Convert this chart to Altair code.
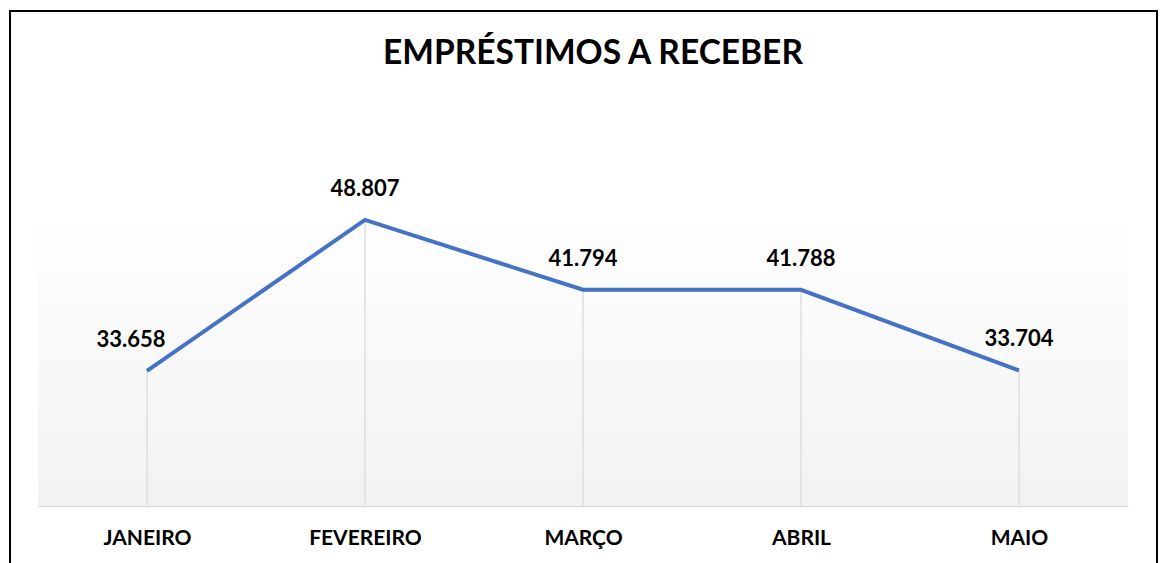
import altair as alt
import pandas as pd

meses = ["JANEIRO", "FEVEREIRO", "MARÇO", "ABRIL", "MAIO"]
valores = [33658, 48807, 41794, 41788, 33704]
label_dx = [-16, 0, 0, 0, 0]
titulo = ["EMPRÉSTIMOS A RECEBER"]

df = pd.DataFrame({"mes": meses, "valor": valores, "dx": label_dx})

W, H = 1090, 301
FONT = "Lato"
YMIN, YMAX = 20100, 50300

xenc = alt.X("mes:N", sort=meses,
             scale=alt.Scale(type="point", padding=0.5),
             axis=alt.Axis(title=None, labelFont=FONT, labelFontSize=21, labelFontWeight="bold",
                           labelColor="#000000", labelPadding=21, ticks=False,
                           domainColor="#d9d9d9", domainWidth=1.5, grid=False, labelAngle=0))
yscale = alt.Scale(domain=[YMIN, YMAX], nice=False, zero=False)

base = alt.Chart(df)

bg = base.mark_rect(
    fill=alt.Gradient(gradient="linear",
                      stops=[alt.GradientStop(color="#ffffff", offset=0),
                             alt.GradientStop(color="#f2f2f2", offset=1)],
                      x1=0, x2=0, y1=0, y2=1),
    clip=False
).encode(x=alt.value(0), x2=alt.value(W), y=alt.value(0), y2=alt.value(H))

border = base.mark_rect(fill=None, stroke="#000000", strokeWidth=2, clip=False).encode(
    x=alt.value(-28), x2=alt.value(1119), y=alt.value(-194), y2=alt.value(H + 80))

title_mark = alt.Chart(pd.DataFrame({"t": titulo})).mark_text(
    font=FONT, fontSize=33.5, fontWeight="bold", color="#000000", baseline="alphabetic", align="center"
).encode(x=alt.value(W / 2 + 10), y=alt.value(-141), text="t:N")

drops = base.mark_rule(color="#d9d9d9", strokeWidth=1.2).encode(
    x=xenc,
    y=alt.Y("valor:Q", scale=yscale, axis=None),
    y2=alt.datum(YMIN))

line = base.mark_line(color="#4472C4", strokeWidth=4).encode(
    x=xenc, y=alt.Y("valor:Q", scale=yscale, axis=None))

lbl_calc = {"lbl": "replace(format(datum.valor, ','), ',', '.')"}

labels_first = base.transform_filter(alt.datum.mes == meses[0]).transform_calculate(**lbl_calc).mark_text(
    font=FONT, fontSize=22, fontWeight="bold", color="#000000", baseline="bottom", dy=-19, dx=label_dx[0]
).encode(x=xenc, y=alt.Y("valor:Q", scale=yscale, axis=None), text="lbl:N")

labels_rest = base.transform_filter(alt.datum.mes != meses[0]).transform_calculate(**lbl_calc).mark_text(
    font=FONT, fontSize=22, fontWeight="bold", color="#000000", baseline="bottom", dy=-19
).encode(x=xenc, y=alt.Y("valor:Q", scale=yscale, axis=None), text="lbl:N")

chart = alt.layer(bg, border, drops, line, labels_first, labels_rest, title_mark).properties(
    width=W, height=H,
    autosize=alt.AutoSizeParams(type="none"),
    padding={"left": 38, "top": 205, "right": 34, "bottom": 57},
    background="#ffffff"
).configure_view(stroke=None)

chart.save("out.html", embed_options={"renderer": "svg", "actions": False})
